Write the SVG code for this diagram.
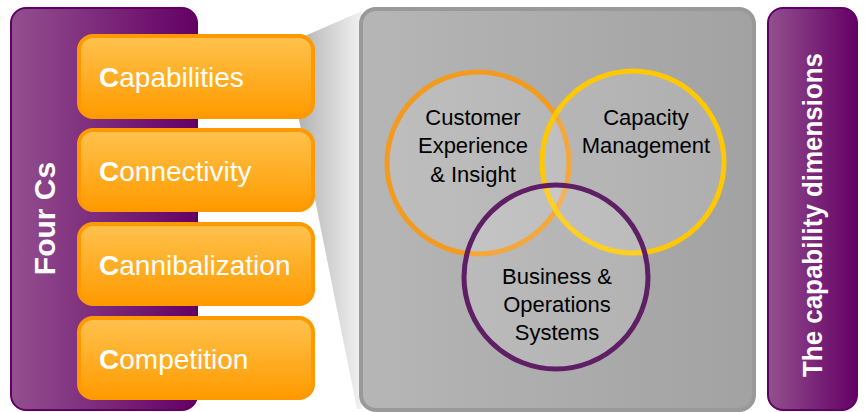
<svg xmlns="http://www.w3.org/2000/svg" width="865" height="412" viewBox="0 0 865 412">
  <defs>
    <linearGradient id="purpleGrad" x1="0" y1="0" x2="1" y2="0">
      <stop offset="0" stop-color="#93508f"/>
      <stop offset="1" stop-color="#640065"/>
    </linearGradient>
    <linearGradient id="orangeGrad" x1="0" y1="0" x2="0" y2="1">
      <stop offset="0" stop-color="#ffc24e"/>
      <stop offset="1" stop-color="#ff9b00"/>
    </linearGradient>
    <linearGradient id="funnelGrad" x1="0" y1="0" x2="1" y2="0">
      <stop offset="0" stop-color="#a4a4a4"/>
      <stop offset="1" stop-color="#f2f2f2"/>
    </linearGradient>
    <linearGradient id="panelGrad" x1="0" y1="0" x2="1" y2="0">
      <stop offset="0" stop-color="#b6b6b6"/>
      <stop offset="1" stop-color="#a2a2a2"/>
    </linearGradient>
    <style>
      .bar { fill: url(#purpleGrad); stroke: #600062; stroke-width: 2; }
      .cbox { fill: url(#orangeGrad); stroke: #ff9900; stroke-width: 4; }
      .clabel { font-family: "Liberation Sans", Arial, sans-serif; font-size: 28px; fill: #ffffff; }
      .clabel .init { font-weight: bold; }
      .vlabel { font-family: "Liberation Sans", Arial, sans-serif; font-weight: bold; fill: #ffffff; text-anchor: middle; }
      .ring { stroke-width: 5; fill: #ffffff; fill-opacity: 0.13; }
      .rlabel { font-family: "Liberation Sans", Arial, sans-serif; font-size: 22px; fill: #000000; text-anchor: middle; }
    </style>
  </defs>

  <!-- Four Cs side bar -->
  <g id="four-cs">
    <rect class="bar" x="11" y="8" width="186" height="402" rx="15" ry="15"/>
    <text class="vlabel" font-size="30" transform="translate(55 218.5) rotate(-90)" x="0" y="0">Four Cs</text>
  </g>

  <!-- Zoom funnel from the list to the capability panel -->
  <g id="funnel">
    <polygon points="284,45 362,11 362,409 357,409" fill="url(#funnelGrad)"/>
  </g>

  <!-- The four C items -->
  <g id="capabilities">
    <rect class="cbox" x="79" y="36" width="234" height="81" rx="14" ry="14"/>
    <text class="clabel" x="99" y="87"><tspan class="init">C</tspan>apabilities</text>
  </g>
  <g id="connectivity">
    <rect class="cbox" x="79" y="130" width="234" height="80" rx="14" ry="14"/>
    <text class="clabel" x="99" y="181"><tspan class="init">C</tspan>onnectivity</text>
  </g>
  <g id="cannibalization">
    <rect class="cbox" x="79" y="224" width="234" height="80" rx="14" ry="14"/>
    <text class="clabel" x="99" y="275"><tspan class="init">C</tspan>annibalization</text>
  </g>
  <g id="competition">
    <rect class="cbox" x="79" y="318" width="234" height="80" rx="14" ry="14"/>
    <text class="clabel" x="99" y="369"><tspan class="init">C</tspan>ompetition</text>
  </g>

  <!-- Capability panel -->
  <g id="capability-panel">
    <rect x="361" y="9" width="393" height="401" rx="15" ry="15" fill="url(#panelGrad)" stroke="#999999" stroke-width="4"/>
  </g>

  <!-- Overlapping capability dimensions -->
  <g id="customer-experience">
    <circle class="ring" cx="478" cy="163" r="91" stroke="#f39b1f"/>
  </g>
  <g id="capacity-management">
    <circle class="ring" cx="633" cy="162" r="91" stroke="#ffc800"/>
  </g>
  <g id="business-operations">
    <circle class="ring" cx="556" cy="277" r="92" stroke="#5e1f64"/>
  </g>

  <!-- Ring labels drawn on top of all rings -->
  <g id="ring-labels">
    <text class="rlabel" x="473" y="125">Customer</text>
    <text class="rlabel" x="473" y="153">Experience</text>
    <text class="rlabel" x="473" y="182">&amp; Insight</text>
    <text class="rlabel" x="646" y="125">Capacity</text>
    <text class="rlabel" x="646" y="153">Management</text>
    <text class="rlabel" x="557" y="284">Business &amp;</text>
    <text class="rlabel" x="557" y="312">Operations</text>
    <text class="rlabel" x="557" y="340">Systems</text>
  </g>

  <!-- Dimensions side bar -->
  <g id="dimensions">
    <rect class="bar" x="768" y="8" width="89" height="402" rx="15" ry="15"/>
    <text class="vlabel" font-size="28" textLength="324" lengthAdjust="spacingAndGlyphs" transform="translate(822 215) rotate(-90)" x="0" y="0">The capability dimensions</text>
  </g>

  <!-- connectors: none besides the funnel shape -->
  <g id="connectors"/>
</svg>
